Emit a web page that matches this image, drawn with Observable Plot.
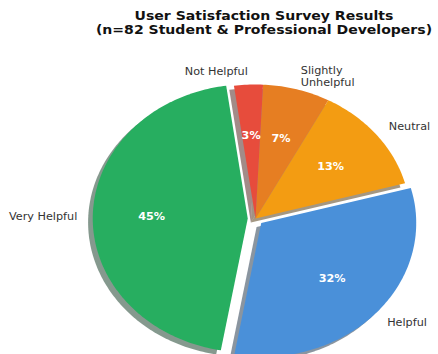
<!DOCTYPE html>
<html>
<head>
<meta charset="utf-8">
<script src="https://cdn.jsdelivr.net/npm/d3@7"></script>
<script src="https://cdn.jsdelivr.net/npm/@observablehq/plot@0.6"></script>
<style>
  body { margin: 0; background: #fff; }
  #title { box-sizing: border-box; height: 40px; padding-top: 9px; width: 438px; position: relative;
           font: bold 12px "DejaVu Sans", sans-serif; line-height: 14px; color: #111; white-space: nowrap; }
  #title div { position: absolute; left: 264px; transform: translateX(-50%) scaleX(1.17); }
</style>
</head>
<body>
<div id="title"><div style="top:9px">User Satisfaction Survey Results</div><div style="top:23px">(n=82 Student &amp; Professional Developers)</div></div>
<div id="chart"></div>
<script>
// Data
const categories = ["Very Helpful", "Helpful", "Neutral", "Slightly Unhelpful", "Not Helpful"];
const labelTexts = ["Very Helpful", "Helpful", "Neutral", "Slightly\nUnhelpful", "Not Helpful"];
const shares = [45, 32, 13, 7, 3];
const colors = ["#27ae60", "#4a90d9", "#f39c12", "#e67e22", "#e74c3c"];
const explode = [0.05, 0.05, 0, 0, 0];
const startAngle = 98; // degrees, counterclockwise

const W = 438, H = 314;
const cx = 255, cy = 178, Rx = 155, Ry = 134;
const total = d3.sum(shares);
const shadowOff = [-0.03, -0.03];

function darken(c) {
  const r = d3.rgb(c);
  return d3.rgb(r.r * 0.3, r.g * 0.3, r.b * 0.3).formatHex();
}

const slices = [];
let acc = startAngle;
shares.forEach((v, i) => {
  const span = v / total * 360;
  const a0 = acc, a1 = acc + span;
  acc = a1;
  const mid = (a0 + a1) / 2 * Math.PI / 180;
  const ox = explode[i] * Math.cos(mid), oy = explode[i] * Math.sin(mid);
  slices.push({i, a0, a1, mid, ox, oy});
});

function wedge(s, dx, dy, key, fill) {
  const pts = [{key, fill, x: s.ox + dx, y: s.oy + dy}];
  const n = Math.max(4, Math.ceil(s.a1 - s.a0));
  for (let k = 0; k <= n; k++) {
    const a = (s.a0 + (s.a1 - s.a0) * k / n) * Math.PI / 180;
    pts.push({key, fill, x: s.ox + dx + Math.cos(a), y: s.oy + dy + Math.sin(a)});
  }
  pts.push({key, fill, x: s.ox + dx, y: s.oy + dy});
  return pts;
}

const shadowPts = slices.flatMap(s => wedge(s, shadowOff[0], shadowOff[1], "s" + s.i, darken(colors[s.i])));
const slicePts = slices.flatMap(s => wedge(s, 0, 0, "w" + s.i, colors[s.i]));

const labelRows = slices.map(s => ({
  text: labelTexts[s.i],
  x: s.ox + 1.1 * Math.cos(s.mid),
  y: s.oy + 1.1 * Math.sin(s.mid),
  left: Math.cos(s.mid) >= 0
}));
const pctRows = slices.map(s => ({
  text: shares[s.i] + "%",
  x: s.ox + 0.62 * Math.cos(s.mid),
  y: s.oy + 0.62 * Math.sin(s.mid)
}));

const chart = Plot.plot({
  width: W,
  height: H,
  margin: 0,
  x: {domain: [-cx / Rx, (W - cx) / Rx], range: [0, W], axis: null},
  y: {domain: [-(H - cy) / Ry, cy / Ry], range: [H, 0], axis: null},
  color: {type: "identity"},
  style: {fontFamily: "DejaVu Sans, sans-serif", overflow: "hidden"},
  marks: [
    Plot.line(shadowPts, {x: "x", y: "y", z: "key", fill: "fill", fillOpacity: 0.5, stroke: null, curve: "linear"}),
    Plot.line(slicePts, {x: "x", y: "y", z: "key", fill: "fill", stroke: null, curve: "linear"}),
    Plot.text(labelRows, {filter: d => d.left, x: "x", y: "y", text: "text", textAnchor: "start", fontSize: 10.5, fill: "#333", lineHeight: 1.15}),
    Plot.text(labelRows, {filter: d => !d.left, x: "x", y: "y", text: "text", textAnchor: "end", fontSize: 10.5, fill: "#333", lineHeight: 1.15}),
    Plot.text(pctRows, {x: "x", y: "y", text: "text", fontSize: 10.5, fontWeight: "bold", fill: "white"})
  ]
});
// widen glyphs slightly to match the reference's horizontal proportions
chart.querySelectorAll("text").forEach(t => {
  const tr = t.getAttribute("transform");
  if (tr) t.setAttribute("transform", tr + " scale(1.07,1)");
});
document.getElementById("chart").appendChild(chart);
</script>
</body>
</html>
